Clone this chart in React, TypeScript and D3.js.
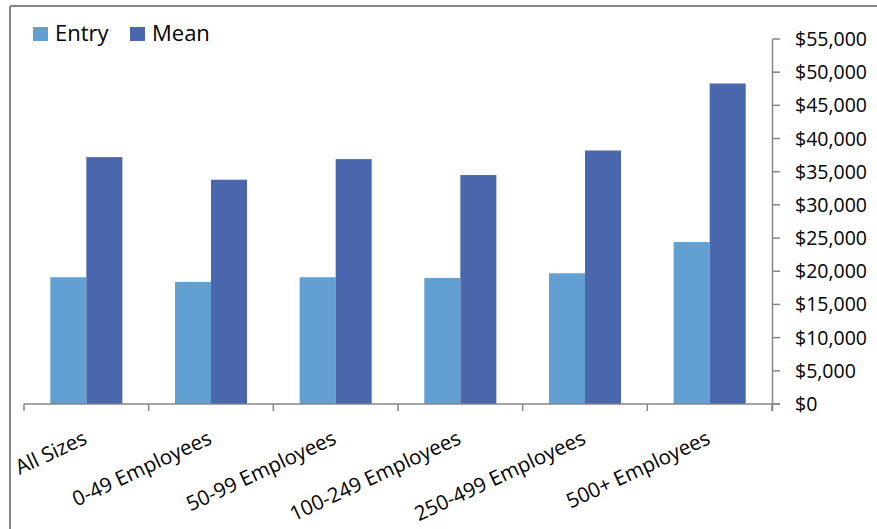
import React from "react";
import * as d3 from "d3";

const categories = ["All Sizes", "0-49 Employees", "50-99 Employees", "100-249 Employees", "250-499 Employees", "500+ Employees"];
const seriesNames = ["Entry", "Mean"];
const entryValues = [19100, 18400, 19100, 19000, 19700, 24400];
const meanValues = [37200, 33800, 36900, 34500, 38200, 48300];
const yTicks = [0, 5000, 10000, 15000, 20000, 25000, 30000, 35000, 40000, 45000, 50000, 55000];

const W = 877;
const H = 529;
const colors = ["#629fd3", "#4a67ae"];
const axisColor = "#868686";
const font = "'Open Sans', 'DejaVu Sans', sans-serif";

export default function App() {
  const x = d3.scaleBand<string>().domain(categories).range([24, 772]).paddingInner(0).paddingOuter(0);
  const cw = x.bandwidth();
  const gap = cw * 0.422;
  const xs = d3.scaleBand<string>().domain(seriesNames).range([gap / 2, cw - gap / 2]).padding(0);
  const y = d3.scaleLinear().domain([0, 55000]).range([404, 39]);
  const fmt = (v: number) => "$" + d3.format(",")(v);
  const series = [entryValues, meanValues];
  const boundaries = d3.range(categories.length + 1).map((i) => 24 + i * cw);

  return (
    <svg width={W} height={H} style={{ position: "absolute", left: 0, top: 0, background: "#fff" }}>
      <rect x={0} y={0} width={W} height={H} fill="#fff" />
      {/* outer frame */}
      <line x1={10} y1={6} x2={W} y2={6} stroke={axisColor} strokeWidth={2} />
      <line x1={10} y1={6} x2={10} y2={H} stroke={axisColor} strokeWidth={2} />

      {/* bars */}
      {series.map((vals, si) =>
        categories.map((c, ci) => (
          <rect
            key={`${si}-${ci}`}
            x={(x(c) as number) + (xs(seriesNames[si]) as number)}
            y={y(vals[ci])}
            width={xs.bandwidth()}
            height={y(0) - y(vals[ci])}
            fill={colors[si]}
          />
        ))
      )}

      {/* x axis */}
      <line x1={24} y1={y(0)} x2={780} y2={y(0)} stroke={axisColor} strokeWidth={1.5} />
      {boundaries.map((bx, i) => (
        <line key={i} x1={bx} y1={y(0)} x2={bx} y2={y(0) + 7} stroke={axisColor} strokeWidth={1.5} />
      ))}
      {categories.map((c) => {
        const cx = (x(c) as number) + cw / 2 + 2;
        const cy = 443;
        return (
          <text
            key={c}
            x={cx}
            y={cy}
            transform={`rotate(-25 ${cx} ${cy})`}
            textAnchor="end"
            fontFamily={font}
            fontSize={20.5}
            fill="#000"
          >
            {c}
          </text>
        );
      })}

      {/* y axis */}
      <line x1={772.5} y1={y(55000)} x2={772.5} y2={y(0) + 7} stroke={axisColor} strokeWidth={1.5} />
      {yTicks.map((t) => (
        <g key={t}>
          <line x1={772.5} y1={y(t)} x2={780} y2={y(t)} stroke={axisColor} strokeWidth={1.5} />
          <text x={795} y={y(t)} dy="0.36em" fontFamily={font} fontSize={19.5} fill="#000">
            {fmt(t)}
          </text>
        </g>
      ))}

      {/* legend */}
      {seriesNames.map((s, i) => {
        const lx = i === 0 ? 33 : 130;
        return (
          <g key={s}>
            <rect x={lx} y={27} width={15} height={14} fill={colors[i]} />
            <text x={lx + 22} y={41} fontFamily={font} fontSize={22} fill="#000">
              {s}
            </text>
          </g>
        );
      })}
    </svg>
  );
}
